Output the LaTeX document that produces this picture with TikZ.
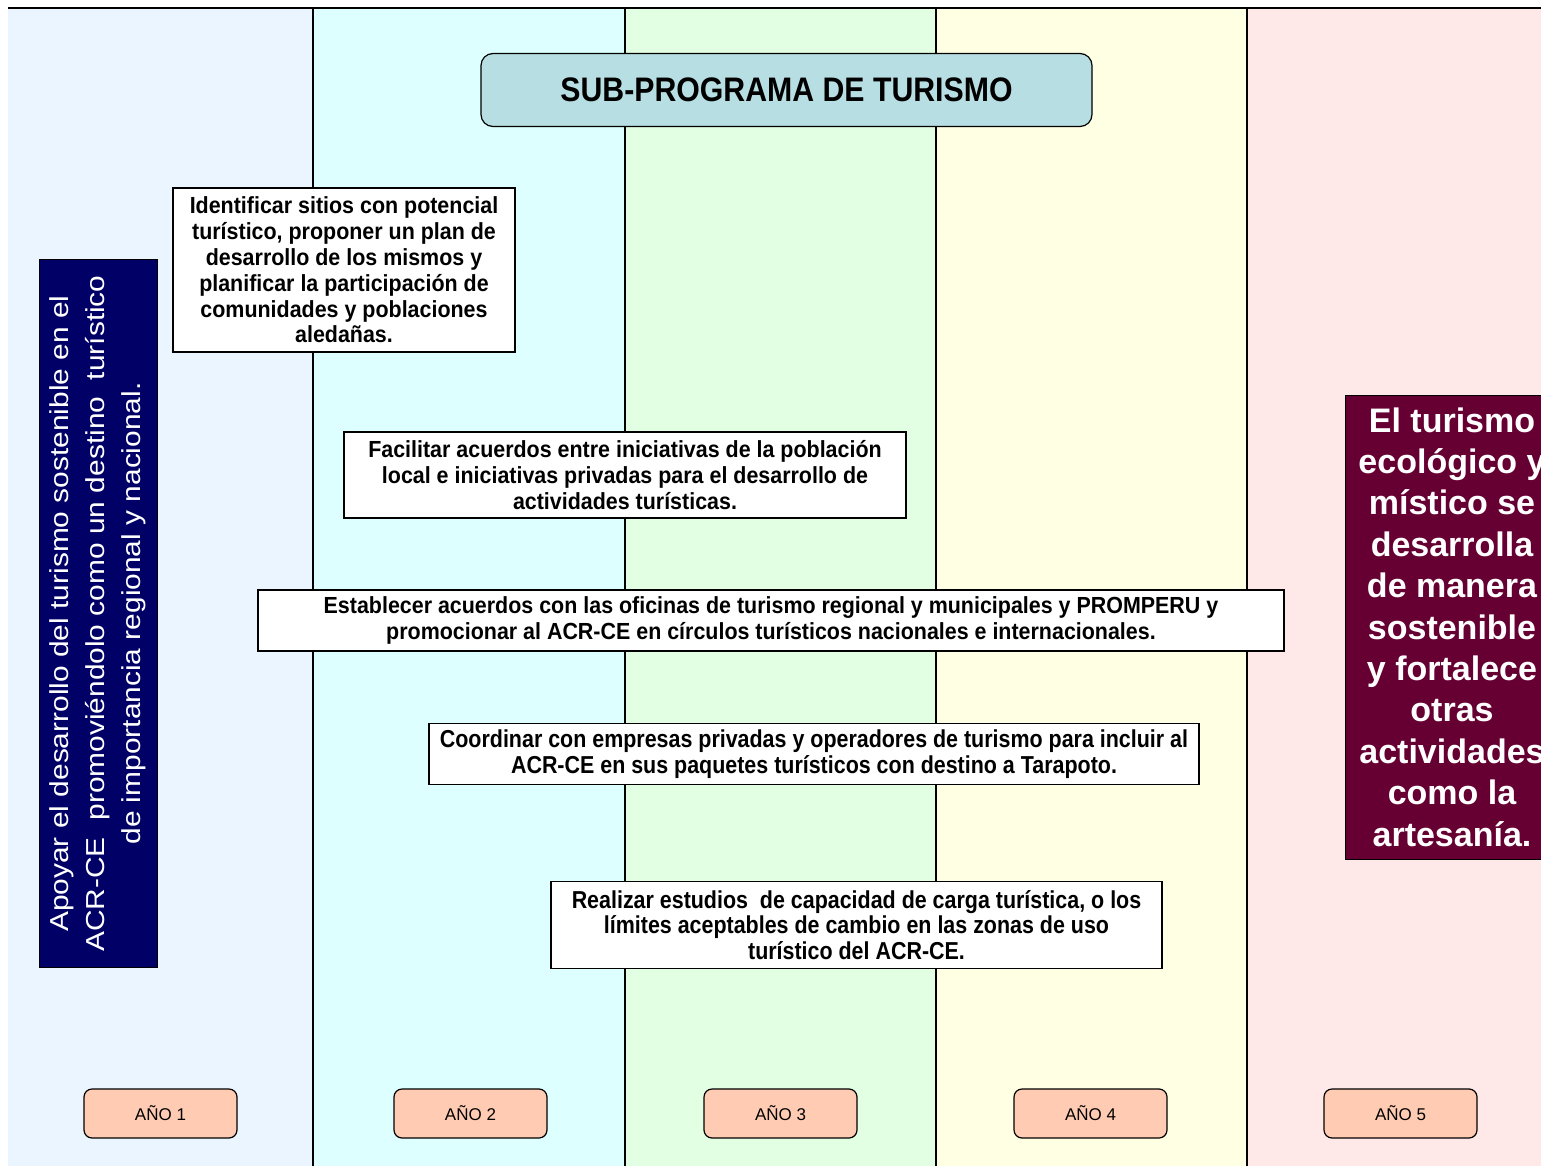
\documentclass[tikz,border=0pt]{standalone}
\usepackage{fontspec}
\setmainfont{Liberation Sans}
\newfontfamily\taskfont[FakeStretch=0.92]{Liberation Sans}
\newfontfamily\tightfont[FakeStretch=0.875]{Liberation Sans}
\newfontfamily\titlefont[FakeStretch=0.89]{Liberation Sans}
\newfontfamily\widefont[FakeStretch=1.15]{Liberation Sans}
\definecolor{colA}{RGB}{234,245,255}
\definecolor{colB}{RGB}{221,255,255}
\definecolor{colC}{RGB}{227,255,227}
\definecolor{colD}{RGB}{255,255,227}
\definecolor{colE}{RGB}{255,232,232}
\definecolor{titlefill}{RGB}{183,222,226}
\definecolor{navyfill}{RGB}{0,0,102}
\definecolor{maroonfill}{RGB}{102,0,51}
\definecolor{peach}{RGB}{255,204,179}
\tikzset{
  divider/.style={line width=1.5pt, black},
  taskbox/.style={draw=black, line width=1.2pt, fill=white, align=center,
    inner sep=0pt, font=\fontsize{23.3}{25.8}\selectfont\taskfont\bfseries},
  tighttask/.style={taskbox, font=\fontsize{24.5}{25.7}\selectfont\tightfont\bfseries},
  yearbox/.style={draw=black, line width=1.2pt, fill=peach, rounded corners=8pt,
    minimum width=153pt, minimum height=49pt, inner sep=0pt,
    font=\fontsize{17}{20}\selectfont},
}
\begin{document}
\begin{tikzpicture}[x=1pt,y=-1pt]
\useasboundingbox (0,0) rectangle (1541,1166);
% year columns
\fill[colA] (8,8) rectangle (313,1166);
\fill[colB] (313,8) rectangle (625,1166);
\fill[colC] (625,8) rectangle (936,1166);
\fill[colD] (936,8) rectangle (1247,1166);
\fill[colE] (1247,8) rectangle (1541,1166);
\draw[divider] (8,8) -- (1541,8);
\foreach \xx in {313,625,936,1247} \draw[divider] (\xx,8) -- (\xx,1166);

% title
\node[draw=black, line width=1.2pt, fill=titlefill, rounded corners=12pt,
  minimum width=611pt, minimum height=73pt, inner sep=0pt,
  font=\fontsize{34}{38}\selectfont\titlefont\bfseries] (title) at (786.5,90)
  {SUB-PROGRAMA DE TURISMO};

% general objective (left)
\node[draw=black, line width=1pt, fill=navyfill, text=white, rotate=90,
  minimum width=707pt, minimum height=118pt, inner sep=0pt, align=center,
  font=\fontsize{26}{35.8}\selectfont\widefont] (goal) at (98,613.5)
  {Apoyar el desarrollo del turismo sostenible en el\\
   ACR-CE\ \ promoviéndolo como un destino\ \ turístico\\
   de importancia regional y nacional.};

% expected result (right)
\node[draw=black, line width=1pt, fill=maroonfill, text=white,
  minimum width=214pt, minimum height=464pt, inner sep=0pt, align=center,
  font=\fontsize{34}{41.4}\selectfont\bfseries] (result) at (1452,627)
  {El turismo\\ ecológico y\\ místico se\\ desarrolla\\ de manera\\ sostenible\\
   y fortalece\\ otras\\ actividades\\ como la\\ artesanía.};

% activities
\node[taskbox, minimum width=342pt, minimum height=164pt] (t1) at (344,270)
  {Identificar sitios con potencial\\ turístico, proponer un plan de\\
   desarrollo de los mismos y\\ planificar la participación de\\
   comunidades y poblaciones\\ aledañas.};
\node[taskbox, minimum width=562pt, minimum height=86pt] (t2) at (625,475)
  {Facilitar acuerdos entre iniciativas de la población\\
   local e iniciativas privadas para el desarrollo de\\ actividades turísticas.};
\node[taskbox, minimum width=1026pt, minimum height=61pt] (t3) at (771,620.5)
  {Establecer acuerdos con las oficinas de turismo regional y municipales y PROMPERU y\\
   promocionar al ACR-CE en círculos turísticos nacionales e internacionales.};
\node[tighttask, minimum width=770pt, minimum height=61pt] (t4) at (814,754)
  {Coordinar con empresas privadas y operadores de turismo para incluir al\\
   ACR-CE en sus paquetes turísticos con destino a Tarapoto.};
\node[tighttask, minimum width=611pt, minimum height=87pt] (t5) at (856.5,925)
  {Realizar estudios\ \ de capacidad de carga turística, o los\\
   límites aceptables de cambio en las zonas de uso\\ turístico del ACR-CE.};

% year labels
\node[yearbox] (y1) at (160.5,1113.5) {AÑO 1};
\node[yearbox] (y2) at (470.5,1113.5) {AÑO 2};
\node[yearbox] (y3) at (780.5,1113.5) {AÑO 3};
\node[yearbox] (y4) at (1090.5,1113.5) {AÑO 4};
\node[yearbox] (y5) at (1400.5,1113.5) {AÑO 5};
\end{tikzpicture}
\end{document}
